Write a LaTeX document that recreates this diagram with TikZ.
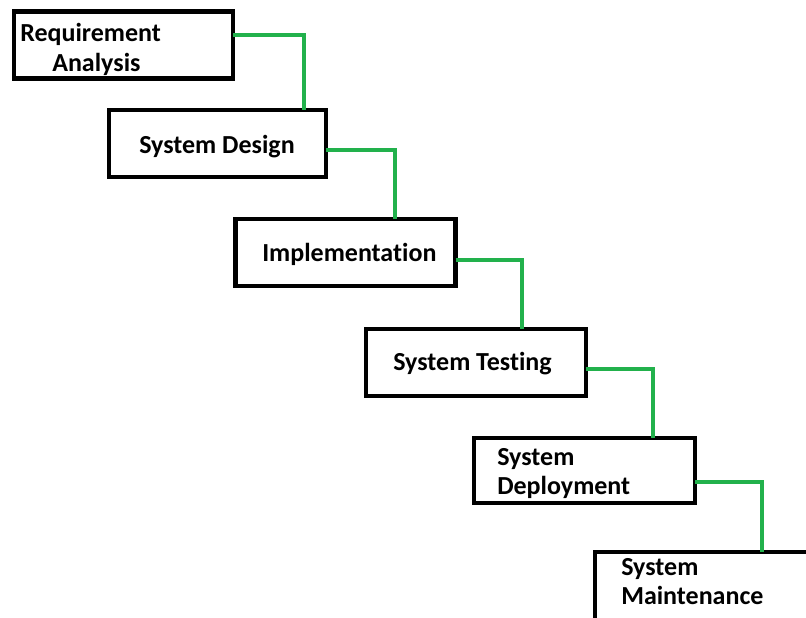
\documentclass[tikz,border=0pt]{standalone}
\usepackage{fontspec}
\setmainfont{Carlito}[RawFeature=-liga]
\usetikzlibrary{fit}
\definecolor{linkgreen}{RGB}{34,177,76}
\tikzset{
  stage/.style={draw=black, line width=3.1pt, fill=white, inner sep=0pt, outer sep=0pt},
  lbl/.style={inner sep=0pt, anchor=base west, font=\fontsize{19.5}{23}\selectfont\bfseries},
  link/.style={draw=linkgreen, line width=2.5pt}
}
\begin{document}
\begin{tikzpicture}[x=0.75pt, y=-0.75pt]
  \clip (0,0) rectangle (806,617);
  \fill[white] (0,0) rectangle (806,617);

  % connector bends
  \coordinate (k1) at (304,35);
  \coordinate (k2) at (395,150);
  \coordinate (k3) at (522,260);
  \coordinate (k4) at (653,369);
  \coordinate (k5) at (762,482);

  % stage boxes
  \node[stage, fit={(14,11.5) (233,78.5)}] (b1) {};
  \node[stage, fit={(109,110) (326,177)}] (b2) {};
  \node[stage, fit={(235.5,219) (455.5,286)}] (b3) {};
  \node[stage, fit={(366,329) (586,396)}] (b4) {};
  \node[stage, fit={(474,438) (695,503)}] (b5) {};
  \node[stage, fit={(595,552) (815,620)}] (b6) {};

  % stage labels
  \node[lbl] (t1a) at (20,42) {Requirement};
  \node[lbl] (t1b) at (52,71) {Analysis};
  \node[lbl] (t2) at (139,153) {System Design};
  \node[lbl] (t3) at (262,261) {Implementation};
  \node[lbl] (t4) at (393,370) {System Testing};
  \node[lbl] (t5a) at (497,465) {System};
  \node[lbl] (t5b) at (497,494) {Deployment};
  \node[lbl] (t6a) at (621,575) {System};
  \node[lbl] (t6b) at (621,604) {Maintenance};

  % step connectors
  \draw[link] (b1.east |- k1) -| (b2.north -| k1);
  \draw[link] (b2.east |- k2) -| (b3.north -| k2);
  \draw[link] (b3.east |- k3) -| (b4.north -| k3);
  \draw[link] (b4.east |- k4) -| (b5.north -| k4);
  \draw[link] (b5.east |- k5) -| (b6.north -| k5);
\end{tikzpicture}
\end{document}
